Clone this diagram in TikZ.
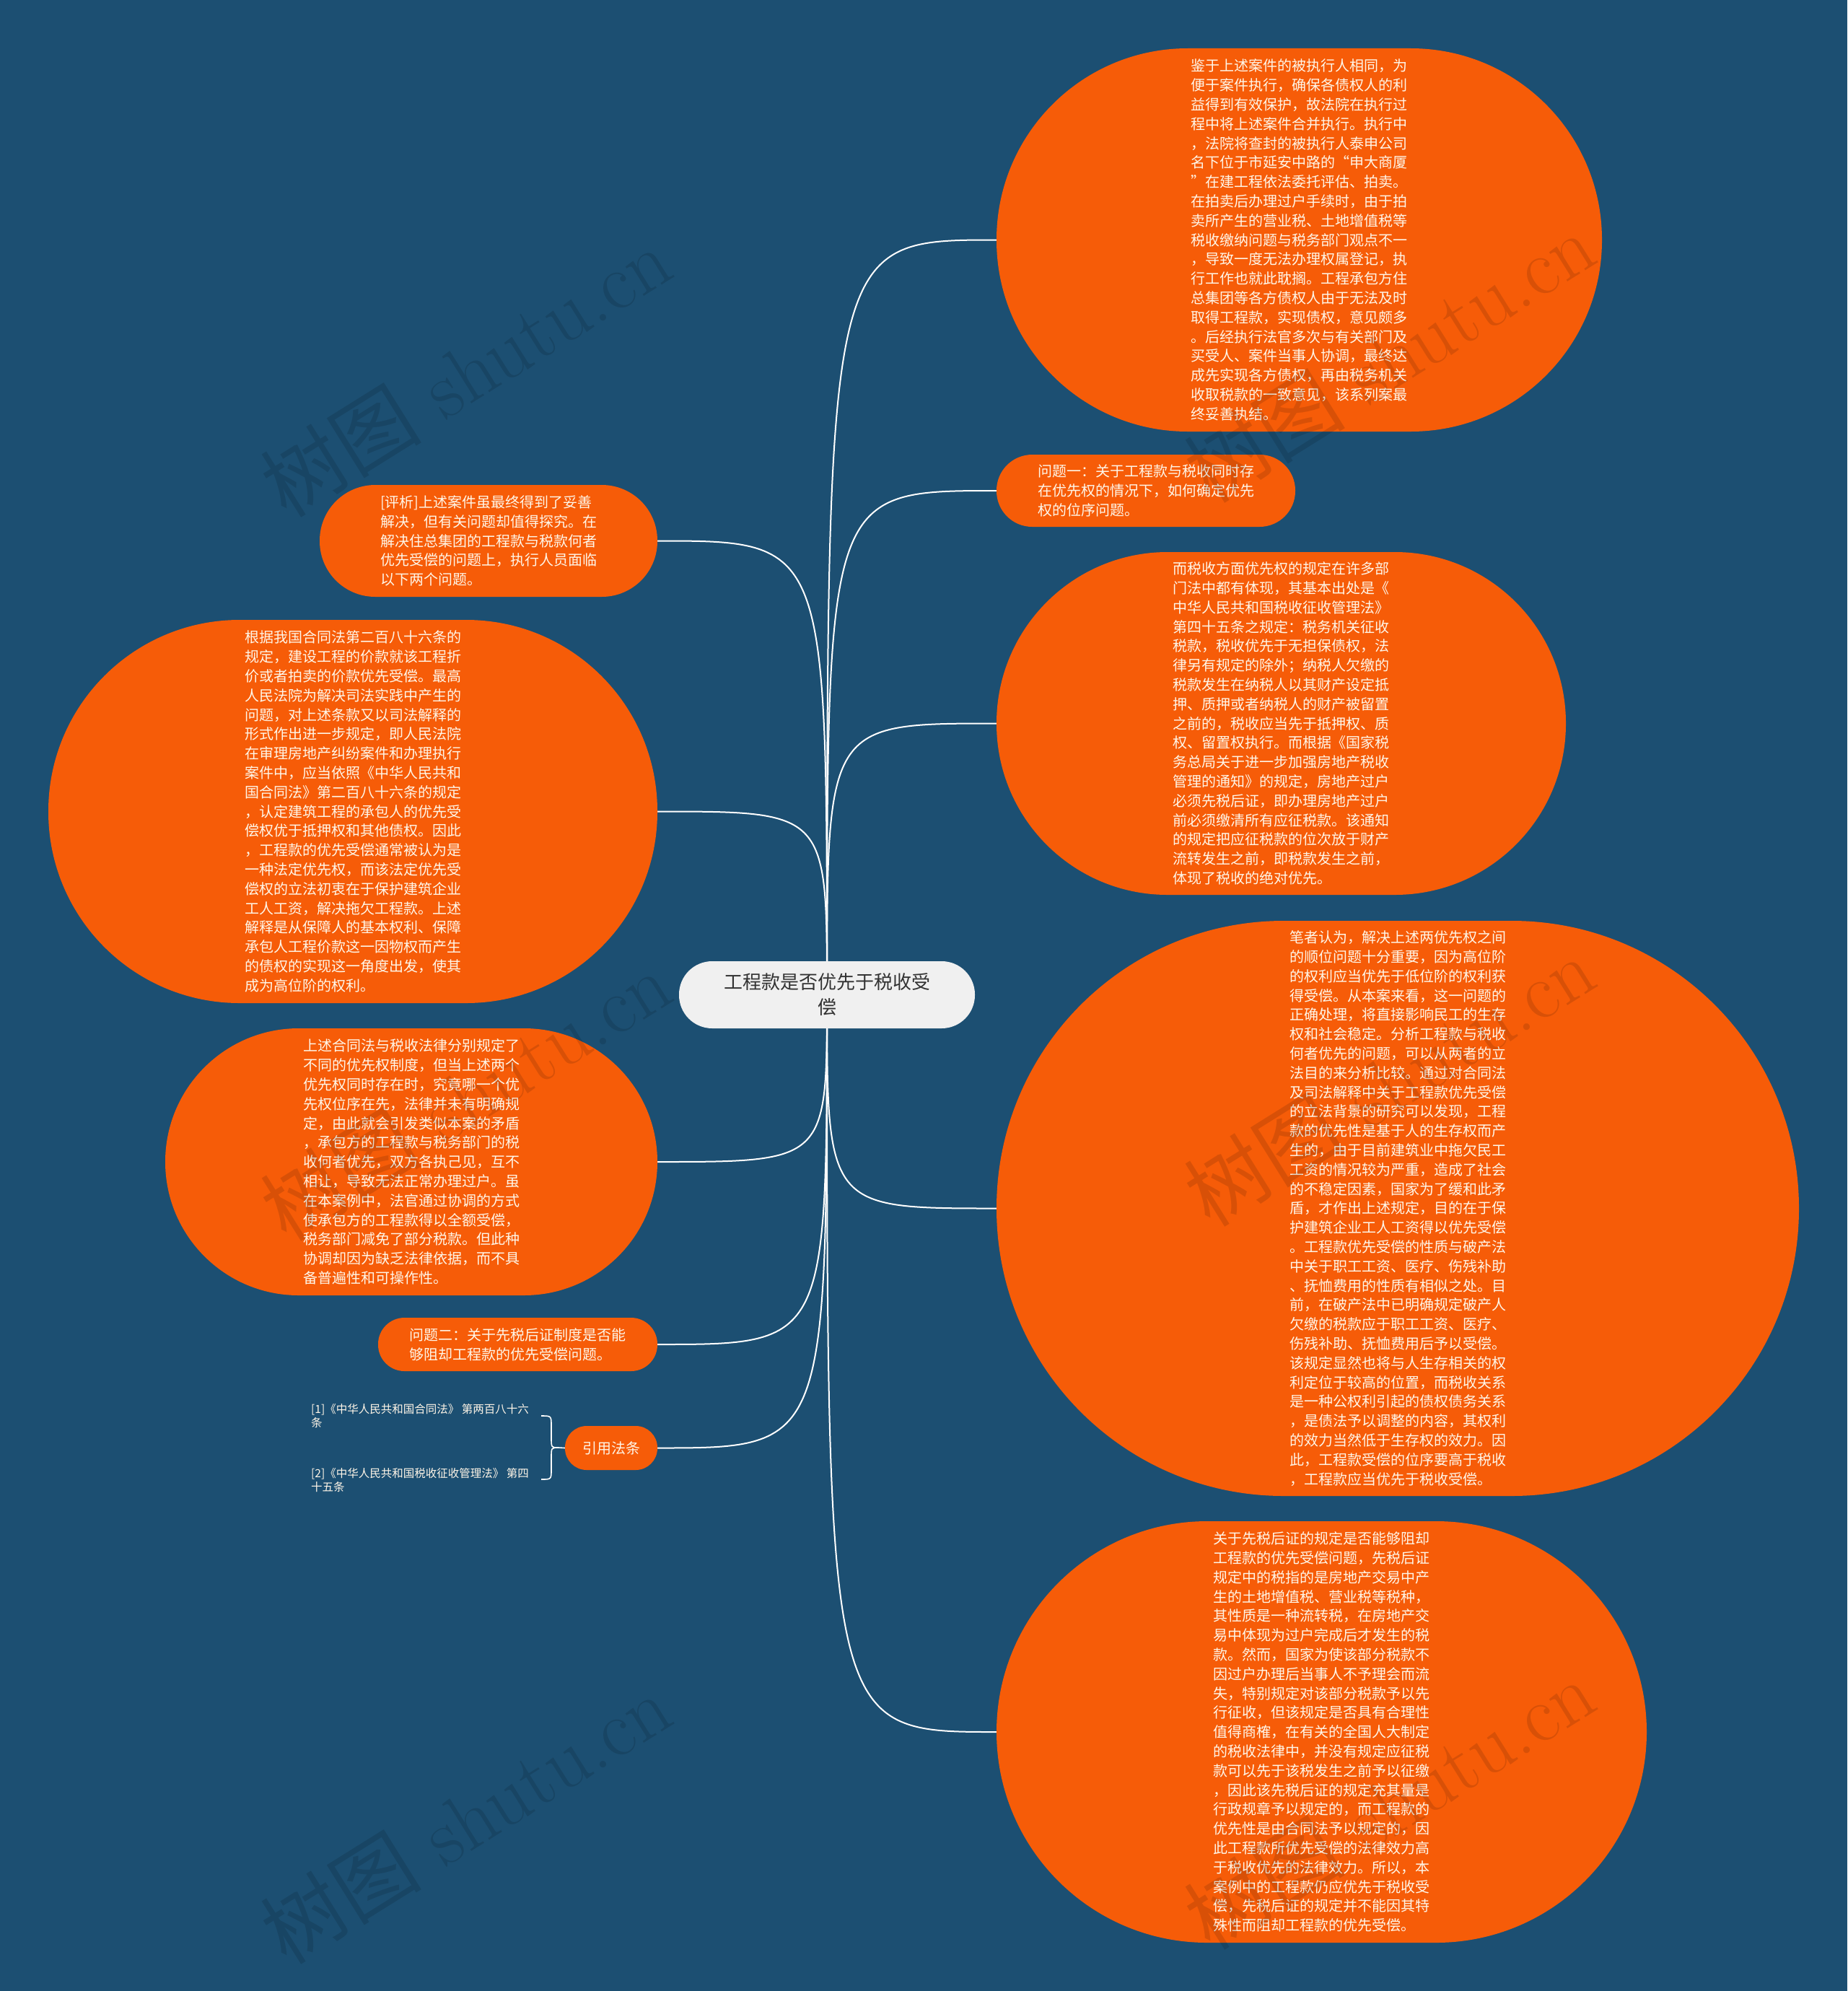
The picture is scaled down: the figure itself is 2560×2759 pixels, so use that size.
\documentclass[tikz,border=0pt]{standalone}
\usepackage{fontspec}
\newfontfamily\cjk{Noto Sans CJK SC}
\pgfdeclarelayer{bg}
\pgfdeclarelayer{edges}
\pgfsetlayers{bg,edges,main}
\definecolor{bgblue}{RGB}{28,79,114}
\definecolor{nodeorange}{RGB}{246,92,8}
\definecolor{txtcol}{RGB}{255,246,232}
\definecolor{centerfill}{RGB}{240,240,240}
\definecolor{centertxt}{RGB}{50,50,50}
\tikzset{
  blob/.style={rectangle, fill=nodeorange, text=txtcol, align=left, inner sep=0pt,
    font=\cjk\fontsize{20}{26.8}\selectfont},
  link/.style={draw=white, line width=2pt},
  citetxt/.style={anchor=west, text=txtcol, align=left, inner sep=0pt,
    font=\cjk\fontsize{15.5}{19}\selectfont},
  wmark/.style={rotate=32, text=black, opacity=0.12, inner sep=0pt,
    font=\fontsize{112}{112}\selectfont},
}
\begin{document}
\begin{tikzpicture}[x=1pt,y=-1pt]
\begin{pgfonlayer}{bg}
\fill[bgblue] (0,0) rectangle (2560,2759);
\end{pgfonlayer}
\useasboundingbox (0,0) rectangle (2560,2759);

% center
\node[rectangle, fill=centerfill, rounded corners=46pt, minimum width=410pt, minimum height=93pt,
  align=center, inner sep=0pt, text=centertxt, font=\cjk\fontsize{26}{35}\selectfont]
  (c) at (1146,1378.5) {工程款是否优先于税收受\\偿};

% right nodes
\node[blob, rounded corners=265pt, minimum width=839pt, minimum height=531pt] (n1) at (1800.5,332.5)
{鉴于上述案件的被执行人相同，为\\便于案件执行，确保各债权人的利\\益得到有效保护，故法院在执行过\\程中将上述案件合并执行。执行中\\，法院将查封的被执行人泰申公司\\名下位于市延安中路的“申大商厦\\”在建工程依法委托评估、拍卖。\\在拍卖后办理过户手续时，由于拍\\卖所产生的营业税、土地增值税等\\税收缴纳问题与税务部门观点不一\\，导致一度无法办理权属登记，执\\行工作也就此耽搁。工程承包方住\\总集团等各方债权人由于无法及时\\取得工程款，实现债权，意见颇多\\。后经执行法官多次与有关部门及\\买受人、案件当事人协调，最终达\\成先实现各方债权，再由税务机关\\收取税款的一致意见，该系列案最\\终妥善执结。};

\node[blob, rounded corners=49.5pt, minimum width=414pt, minimum height=100pt] (n2) at (1588,680)
{问题一：关于工程款与税收同时存\\在优先权的情况下，如何确定优先\\权的位序问题。};

\node[blob, rounded corners=237pt, minimum width=789pt, minimum height=475pt] (n3) at (1775.5,1002.5)
{而税收方面优先权的规定在许多部\\门法中都有体现，其基本出处是《\\中华人民共和国税收征收管理法》\\第四十五条之规定：税务机关征收\\税款，税收优先于无担保债权，法\\律另有规定的除外；纳税人欠缴的\\税款发生在纳税人以其财产设定抵\\押、质押或者纳税人的财产被留置\\之前的，税收应当先于抵押权、质\\权、留置权执行。而根据《国家税\\务总局关于进一步加强房地产税收\\管理的通知》的规定，房地产过户\\必须先税后证，即办理房地产过户\\前必须缴清所有应征税款。该通知\\的规定把应征税款的位次放于财产\\流转发生之前，即税款发生之前，\\体现了税收的绝对优先。};

\node[blob, rounded corners=398pt, minimum width=1112pt, minimum height=797pt] (n4) at (1937,1674.5)
{笔者认为，解决上述两优先权之间\\的顺位问题十分重要，因为高位阶\\的权利应当优先于低位阶的权利获\\得受偿。从本案来看，这一问题的\\正确处理，将直接影响民工的生存\\权和社会稳定。分析工程款与税收\\何者优先的问题，可以从两者的立\\法目的来分析比较。通过对合同法\\及司法解释中关于工程款优先受偿\\的立法背景的研究可以发现，工程\\款的优先性是基于人的生存权而产\\生的，由于目前建筑业中拖欠民工\\工资的情况较为严重，造成了社会\\的不稳定因素，国家为了缓和此矛\\盾，才作出上述规定，目的在于保\\护建筑企业工人工资得以优先受偿\\。工程款优先受偿的性质与破产法\\中关于职工工资、医疗、伤残补助\\、抚恤费用的性质有相似之处。目\\前，在破产法中已明确规定破产人\\欠缴的税款应于职工工资、医疗、\\伤残补助、抚恤费用后予以受偿。\\该规定显然也将与人生存相关的权\\利定位于较高的位置，而税收关系\\是一种公权利引起的债权债务关系\\，是债法予以调整的内容，其权利\\的效力当然低于生存权的效力。因\\此，工程款受偿的位序要高于税收\\，工程款应当优先于税收受偿。};

\node[blob, rounded corners=292pt, minimum width=901pt, minimum height=584pt] (n5) at (1831.5,2400)
{关于先税后证的规定是否能够阻却\\工程款的优先受偿问题，先税后证\\规定中的税指的是房地产交易中产\\生的土地增值税、营业税等税种，\\其性质是一种流转税，在房地产交\\易中体现为过户完成后才发生的税\\款。然而，国家为使该部分税款不\\因过户办理后当事人不予理会而流\\失，特别规定对该部分税款予以先\\行征收，但该规定是否具有合理性\\值得商榷，在有关的全国人大制定\\的税收法律中，并没有规定应征税\\款可以先于该税发生之前予以征缴\\，因此该先税后证的规定充其量是\\行政规章予以规定的，而工程款的\\优先性是由合同法予以规定的，因\\此工程款所优先受偿的法律效力高\\于税收优先的法律效力。所以，本\\案例中的工程款仍应优先于税收受\\偿，先税后证的规定并不能因其特\\殊性而阻却工程款的优先受偿。};

% left nodes
\node[blob, rounded corners=77pt, minimum width=468pt, minimum height=155pt] (n6) at (677,749.5)
{[评析]上述案件虽最终得到了妥善\\解决，但有关问题却值得探究。在\\解决住总集团的工程款与税款何者\\优先受偿的问题上，执行人员面临\\以下两个问题。};

\node[blob, rounded corners=265pt, minimum width=844pt, minimum height=531pt] (n7) at (489,1124.5)
{根据我国合同法第二百八十六条的\\规定，建设工程的价款就该工程折\\价或者拍卖的价款优先受偿。最高\\人民法院为解决司法实践中产生的\\问题，对上述条款又以司法解释的\\形式作出进一步规定，即人民法院\\在审理房地产纠纷案件和办理执行\\案件中，应当依照《中华人民共和\\国合同法》第二百八十六条的规定\\，认定建筑工程的承包人的优先受\\偿权优于抵押权和其他债权。因此\\，工程款的优先受偿通常被认为是\\一种法定优先权，而该法定优先受\\偿权的立法初衷在于保护建筑企业\\工人工资，解决拖欠工程款。上述\\解释是从保障人的基本权利、保障\\承包人工程价款这一因物权而产生\\的债权的实现这一角度出发，使其\\成为高位阶的权利。};

\node[blob, rounded corners=185pt, minimum width=682pt, minimum height=370pt] (n8) at (570,1610)
{上述合同法与税收法律分别规定了\\不同的优先权制度，但当上述两个\\优先权同时存在时，究竟哪一个优\\先权位序在先，法律并未有明确规\\定，由此就会引发类似本案的矛盾\\，承包方的工程款与税务部门的税\\收何者优先，双方各执己见，互不\\相让，导致无法正常办理过户。虽\\在本案例中，法官通过协调的方式\\使承包方的工程款得以全额受偿，\\税务部门减免了部分税款。但此种\\协调却因为缺乏法律依据，而不具\\备普遍性和可操作性。};

\node[blob, rounded corners=36.5pt, minimum width=387pt, minimum height=74pt] (n9) at (717.5,1863)
{问题二：关于先税后证制度是否能\\够阻却工程款的优先受偿问题。};

\node[blob, rounded corners=30pt, minimum width=128pt, minimum height=61pt, align=center] (n10) at (847,2006.5)
{引用法条};

% citations
\node[citetxt] (cite1) at (431,1962.5) {[1]《中华人民共和国合同法》 第两百八十六\\条};
\node[citetxt] (cite2) at (431,2051.5) {[2]《中华人民共和国税收征收管理法》 第四\\十五条};

\coordinate (bt) at (750,1962);
\coordinate (bb) at (750,2050);
\coordinate (btip) at (774,2006);
\draw[link, line width=1.6pt] (bt) .. controls (764,1962) .. (764,1976) -- (764,1992)
  .. controls (764,2006) .. (btip) .. controls (764,2006) .. (764,2020) -- (764,2036)
  .. controls (764,2050) .. (bb);
\draw[link, line width=1.6pt] (btip) -- (n10.west);

% connectors
\begin{pgfonlayer}{edges}
\foreach \t in {n1,n2,n3,n4,n5}
  \draw[link] (c.center) .. controls (c.center |- \t.west) .. (\t.west);
\foreach \t in {n6,n7,n8,n9,n10}
  \draw[link] (c.center) .. controls (c.center |- \t.east) .. (\t.east);
\end{pgfonlayer}

% watermarks
\node[wmark] (wm1) at (645,515) {{\cjk 树图} shutu.cn};
\node[wmark] (wm2) at (1925,495) {{\cjk 树图} shutu.cn};
\node[wmark] (wm3) at (645,1518) {{\cjk 树图} shutu.cn};
\node[wmark] (wm4) at (1925,1498) {{\cjk 树图} shutu.cn};
\node[wmark] (wm5) at (645,2520) {{\cjk 树图} shutu.cn};
\node[wmark] (wm6) at (1925,2500) {{\cjk 树图} shutu.cn};
\end{tikzpicture}
\end{document}
